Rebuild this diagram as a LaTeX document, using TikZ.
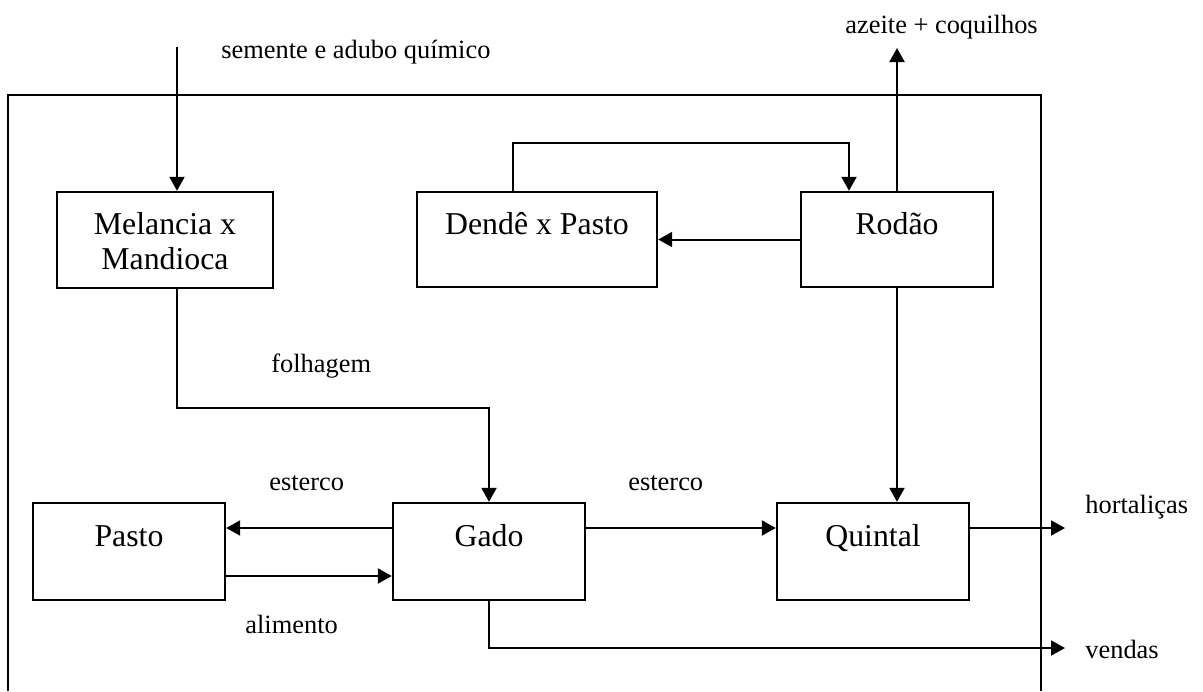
\documentclass[tikz,border=0pt]{standalone}
\usepackage{fontspec}
\setmainfont{Liberation Serif}
\usetikzlibrary{arrows.meta}
% two-row cell so that single-line boxes keep their text in the upper half;
% the taller first strut lowers the text a little inside the box
\newcommand{\twolines}[2]{\begin{tabular}{@{}c@{}}\rule{0pt}{17.25pt}#1\\\mbox{}#2\end{tabular}}
\begin{document}
\begin{tikzpicture}[x=0.5pt,y=-0.5pt,
  stage/.style={draw, line width=1.2pt, inner sep=0pt,
    font=\fontsize{15.9}{17.5}\selectfont},
  flow/.style={-{Triangle[length=7pt,width=7.5pt]}, line width=1pt},
  tag/.style={font=\fontsize{13.2}{15}\selectfont, inner sep=0pt, anchor=base west}]
\useasboundingbox (0,0) rectangle (1203,691);

% system boundary (open at the bottom)
\draw[line width=1pt] (8,691) -- (8,95) -- (1041,95) -- (1041,691);

% subsystems
\node[stage, minimum width=108pt, minimum height=48pt]   (mel) at (165,240)   {\twolines{Melancia x}{Mandioca}};
\node[stage, minimum width=120pt, minimum height=47.5pt] (den) at (537,239.5) {\twolines{Dendê x Pasto}{}};
\node[stage, minimum width=96pt,  minimum height=47.5pt] (rod) at (897,239.5) {\twolines{Rodão}{}};
\node[stage, minimum width=96pt,  minimum height=48.5pt] (pas) at (129,551.5) {\twolines{Pasto}{}};
\node[stage, minimum width=96pt,  minimum height=48.5pt] (gad) at (489,551.5) {\twolines{Gado}{}};
\node[stage, minimum width=96pt,  minimum height=48.5pt] (qui) at (873,551.5) {\twolines{Quintal}{}};

% free ends and bend levels
\coordinate (seedin) at (177,47);
\coordinate (folbend) at (177,408);
\coordinate (loop) at (0,143);
\coordinate (oil) at (897,48);
\coordinate (veg) at (1065,528);
\coordinate (sale) at (1065,648);

% flows
\draw[flow] (seedin) -- (seedin |- mel.north);
\draw[flow] (seedin |- mel.south) -- (folbend) -| (gad.north);
\draw[flow] ([xshift=-12pt]den.north) -- ([xshift=-12pt]den.north |- loop) -| ([xshift=-24pt]rod.north);
\draw[flow] (rod.west) -- (den.east);
\draw[flow] (rod.north) -- (oil);
\draw[flow] (rod.south) -- (rod.south |- qui.north);
\draw[flow] ([yshift=11.75pt]gad.west) -- ([yshift=11.75pt]pas.east);
\draw[flow] ([yshift=-12.25pt]pas.east) -- ([yshift=-12.25pt]gad.west);
\draw[flow] ([yshift=11.75pt]gad.east) -- ([yshift=11.75pt]qui.west);
\draw[flow] ([yshift=11.75pt]qui.east) -- (veg);
\draw[flow] (gad.south) |- (sale);

% flow labels
\node[tag] (lseed) at (221,58)  {semente e adubo químico};
\node[tag] (loil)  at (845,33)  {azeite + coquilhos};
\node[tag] (lfol)  at (271,372) {folhagem};
\node[tag] (lest1) at (269,490) {esterco};
\node[tag] (lest2) at (628,490) {esterco};
\node[tag] (lali)  at (245,633) {alimento};
\node[tag] (lveg)  at (1085,513) {hortaliças};
\node[tag] (lsale) at (1085,658) {vendas};
\end{tikzpicture}
\end{document}
